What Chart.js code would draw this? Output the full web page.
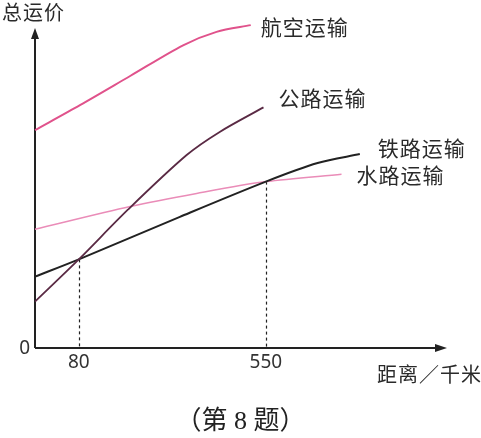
<!DOCTYPE html>
<html><head><meta charset="utf-8">
<script src="https://cdn.jsdelivr.net/npm/chart.js@4.4.1/dist/chart.umd.min.js"></script>
<style>
html,body{margin:0;padding:0;background:#fff;}
#wrap{position:relative;width:481px;height:438px;overflow:hidden;}
#caption{position:absolute;left:0;width:481px;top:404px;text-align:center;font:26px "Liberation Serif","Noto Sans CJK SC",serif;color:#222;line-height:34px;}
</style></head><body>
<div id="wrap"><canvas id="c" width="481" height="438"></canvas><div id="caption">（第 8 题）</div></div>
<script>
// ---- data ----
const seriesNames = ['航空运输', '公路运输', '铁路运输', '水路运输'];
const airX = [-30, 83, 209, 342, 426, 512];
const airY = [68.1, 75.9, 85.0, 94.6, 98.8, 100.9];
const roadX = [-30, 80, 204, 351, 435, 544];
const roadY = [14.5, 27.7, 43.3, 60.3, 67.6, 75.2];
const railX = [-30, 80, 334, 550, 680, 786];
const railY = [22.3, 27.7, 41.0, 52.0, 57.8, 60.6];
const waterX = [-30, 209, 376, 550, 740];
const waterY = [37.1, 44.2, 48.3, 52.0, 54.3];
const xTicks = [80, 550];
const yTicks = [0];
const dropX = [80, 550];
const dropY = [27.7, 52.0];
const xTitle = '距离／千米';
const yTitle = '总运价';

// ---- styles ----
const colors = ['#e0528b', '#5a2a44', '#222222', '#ea8cb8'];
const widths = [2, 1.8, 2, 1.5];
const labelOffsets = [[10, 2], [15, -9], [18, -6], [15, 1]];

function pts(xs, ys) { return xs.map((x, i) => ({ x: x, y: ys[i] })); }
const seriesData = [pts(airX, airY), pts(roadX, roadY), pts(railX, railY), pts(waterX, waterY)];

const decor = {
  id: 'decor',
  beforeDatasetsDraw(chart) {
    const ctx = chart.ctx, a = chart.chartArea, xs = chart.scales.x, ys = chart.scales.y;
    ctx.save();
    // drop lines
    ctx.strokeStyle = '#222'; ctx.lineWidth = 1.2; ctx.setLineDash([3, 3]);
    dropX.forEach((v, i) => {
      const px = Math.round(xs.getPixelForValue(v)) + 0.5;
      ctx.beginPath(); ctx.moveTo(px, ys.getPixelForValue(dropY[i])); ctx.lineTo(px, a.bottom); ctx.stroke();
    });
    ctx.setLineDash([]);
    // axes
    ctx.strokeStyle = '#222'; ctx.fillStyle = '#222'; ctx.lineWidth = 2;
    ctx.beginPath(); ctx.moveTo(a.left, a.bottom); ctx.lineTo(a.left, a.top + 8); ctx.stroke();
    ctx.beginPath(); ctx.moveTo(a.left, a.bottom); ctx.lineTo(a.right - 9, a.bottom); ctx.stroke();
    ctx.beginPath(); ctx.moveTo(a.left, a.top); ctx.lineTo(a.left - 4, a.top + 11); ctx.lineTo(a.left + 4, a.top + 11); ctx.closePath(); ctx.fill();
    ctx.beginPath(); ctx.moveTo(a.right, a.bottom); ctx.lineTo(a.right - 12, a.bottom - 4); ctx.lineTo(a.right - 12, a.bottom + 4); ctx.closePath(); ctx.fill();
    // ticks
    ctx.font = '19px "Noto Sans", sans-serif'; ctx.fillStyle = '#333';
    ctx.textAlign = 'center'; ctx.textBaseline = 'middle';
    xTicks.forEach(v => ctx.fillText(String(v), xs.getPixelForValue(v), a.bottom + 15));
    ctx.textAlign = 'right';
    yTicks.forEach(v => ctx.fillText(String(v), a.left - 5, ys.getPixelForValue(v) + 1));
    ctx.restore();
  },
  afterDraw(chart) {
    const ctx = chart.ctx, a = chart.chartArea, xs = chart.scales.x, ys = chart.scales.y;
    ctx.save();
    ctx.fillStyle = '#2a2a2a';
    ctx.font = '21px "Noto Sans CJK SC", sans-serif';
    ctx.textBaseline = 'middle'; ctx.textAlign = 'left';
    try { ctx.letterSpacing = '1px'; } catch (e) {}
    seriesData.forEach((d, i) => {
      const last = d[d.length - 1];
      ctx.fillText(seriesNames[i], xs.getPixelForValue(last.x) + labelOffsets[i][0], ys.getPixelForValue(last.y) + labelOffsets[i][1]);
    });
    ctx.font = '20px "Noto Sans CJK SC", sans-serif';
    ctx.fillText(yTitle, 2, 12);
    ctx.fillText(xTitle, 377, a.bottom + 26);
    ctx.restore();
  }
};

new Chart(document.getElementById('c'), {
  type: 'line',
  data: {
    datasets: seriesData.map((d, i) => ({
      label: seriesNames[i], data: d, borderColor: colors[i], borderWidth: widths[i],
      pointRadius: 0, fill: false, tension: 0.3, clip: false
    }))
  },
  options: {
    responsive: false, animation: false, devicePixelRatio: 1,
    layout: { padding: { left: 35, right: 34, top: 28, bottom: 90 } },
    scales: {
      x: { type: 'linear', min: -30, max: 1005, display: false },
      y: { type: 'linear', min: 0, max: 100, display: false }
    },
    plugins: { legend: { display: false }, tooltip: { enabled: false } }
  },
  plugins: [decor]
});
</script>
</body></html>
